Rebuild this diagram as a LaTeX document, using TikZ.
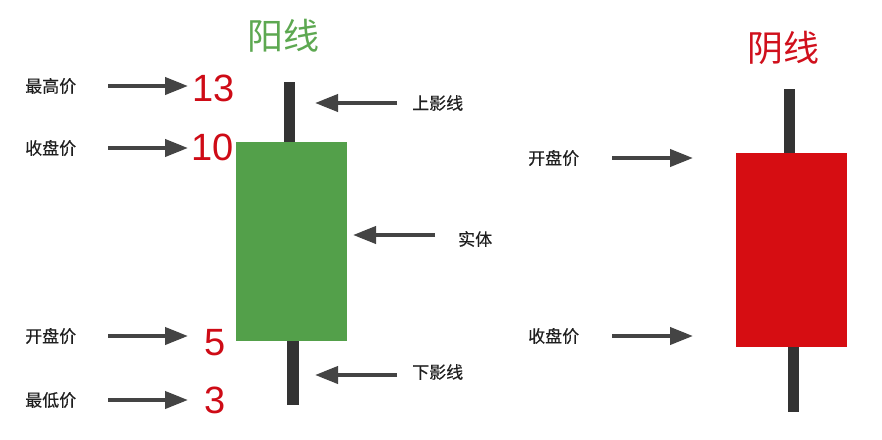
\documentclass[tikz,border=0pt]{standalone}
\usepackage{fontspec}
\setmainfont{Liberation Sans}
\newfontfamily\cjk{Noto Sans CJK SC}
\newfontfamily\cjkm[FakeBold=0.3]{Noto Sans CJK SC}
\usetikzlibrary{arrows.meta}
\definecolor{bodygreen}{HTML}{53A04A}
\definecolor{titlegreen}{HTML}{5DA851}
\definecolor{bodyred}{HTML}{D60D12}
\definecolor{titlered}{HTML}{D0101C}
\definecolor{numred}{HTML}{CE0B16}
\definecolor{wickgray}{HTML}{333333}
\definecolor{arrowgray}{HTML}{444444}
\begin{document}
\begin{tikzpicture}[x=1pt,y=-1pt,
  lbl/.style={font=\cjkm\fontsize{17}{17}\selectfont, inner sep=0, text=black!88},
  num/.style={font=\fontsize{38}{38}\selectfont, text=numred, inner sep=0},
  ttl/.style={font=\cjk\fontsize{36}{36}\selectfont, inner sep=0},
  arr/.style={draw=arrowgray, line width=4pt, -{Triangle[length=23pt,width=17pt]}},
  candle/.style={draw=none, inner sep=0, minimum width=111pt},
  wick/.style={fill=wickgray}]
\useasboundingbox (0,0) rectangle (882,439);

% titles
\node[ttl, text=titlegreen] (tyang) at (283,36) {阳线};
\node[ttl, text=titlered] (tyin) at (783,48) {阴线};

% green candle
\node[candle, fill=bodygreen, minimum height=199pt] (gbody) at (291.5,241.5) {};
\fill[wick] (284,82) rectangle (295,142);
\fill[wick] (287,341) rectangle (299,405);

% red candle
\node[candle, fill=bodyred, minimum height=194pt] (rbody) at (791.5,250) {};
\fill[wick] (784,89) rectangle (795,153);
\fill[wick] (788,347) rectangle (799,412);

% left labels
\node[lbl, anchor=west] (hi) at (25,86) {最高价};
\node[lbl, anchor=west] (cl) at (25,148) {收盘价};
\node[lbl, anchor=west] (op) at (25,336) {开盘价};
\node[lbl, anchor=west] (lo) at (25,400) {最低价};

% numbers
\node[num] (n13) at (214,88) {13};
\node[num] (n10) at (213,147) {10};
\node[num] (n5) at (215.5,343) {5};
\node[num] (n3) at (215.5,400) {3};

% left arrows
\coordinate (a1s) at (108,86); \coordinate (a1e) at (188,86);
\coordinate (a2s) at (108,148); \coordinate (a2e) at (188,148);
\coordinate (a3s) at (108,336); \coordinate (a3e) at (188,336);
\coordinate (a4s) at (108,400); \coordinate (a4e) at (188,400);
\draw[arr] (a1s) -- (a1e);
\draw[arr] (a2s) -- (a2e);
\draw[arr] (a3s) -- (a3e);
\draw[arr] (a4s) -- (a4e);

% right labels of green candle
\node[lbl, anchor=west] (up) at (412,103) {上影线};
\node[lbl, anchor=west] (sti) at (458,239) {实体};
\node[lbl, anchor=west] (dn) at (412,372) {下影线};
\coordinate (b1s) at (397,103); \coordinate (b1e) at (315,103);
\coordinate (b2s) at (435,235); \coordinate (b2e) at (353,235);
\coordinate (b3s) at (397,375); \coordinate (b3e) at (315,375);
\draw[arr] (b1s) -- (b1e);
\draw[arr] (b2s) -- (b2e);
\draw[arr] (b3s) -- (b3e);

% red candle labels
\node[lbl, anchor=west] (rop) at (528,158) {开盘价};
\node[lbl, anchor=west] (rcl) at (528,336) {收盘价};
\coordinate (c1s) at (612,158); \coordinate (c1e) at (693,158);
\coordinate (c2s) at (612,336); \coordinate (c2e) at (693,336);
\draw[arr] (c1s) -- (c1e);
\draw[arr] (c2s) -- (c2e);
\end{tikzpicture}
\end{document}
